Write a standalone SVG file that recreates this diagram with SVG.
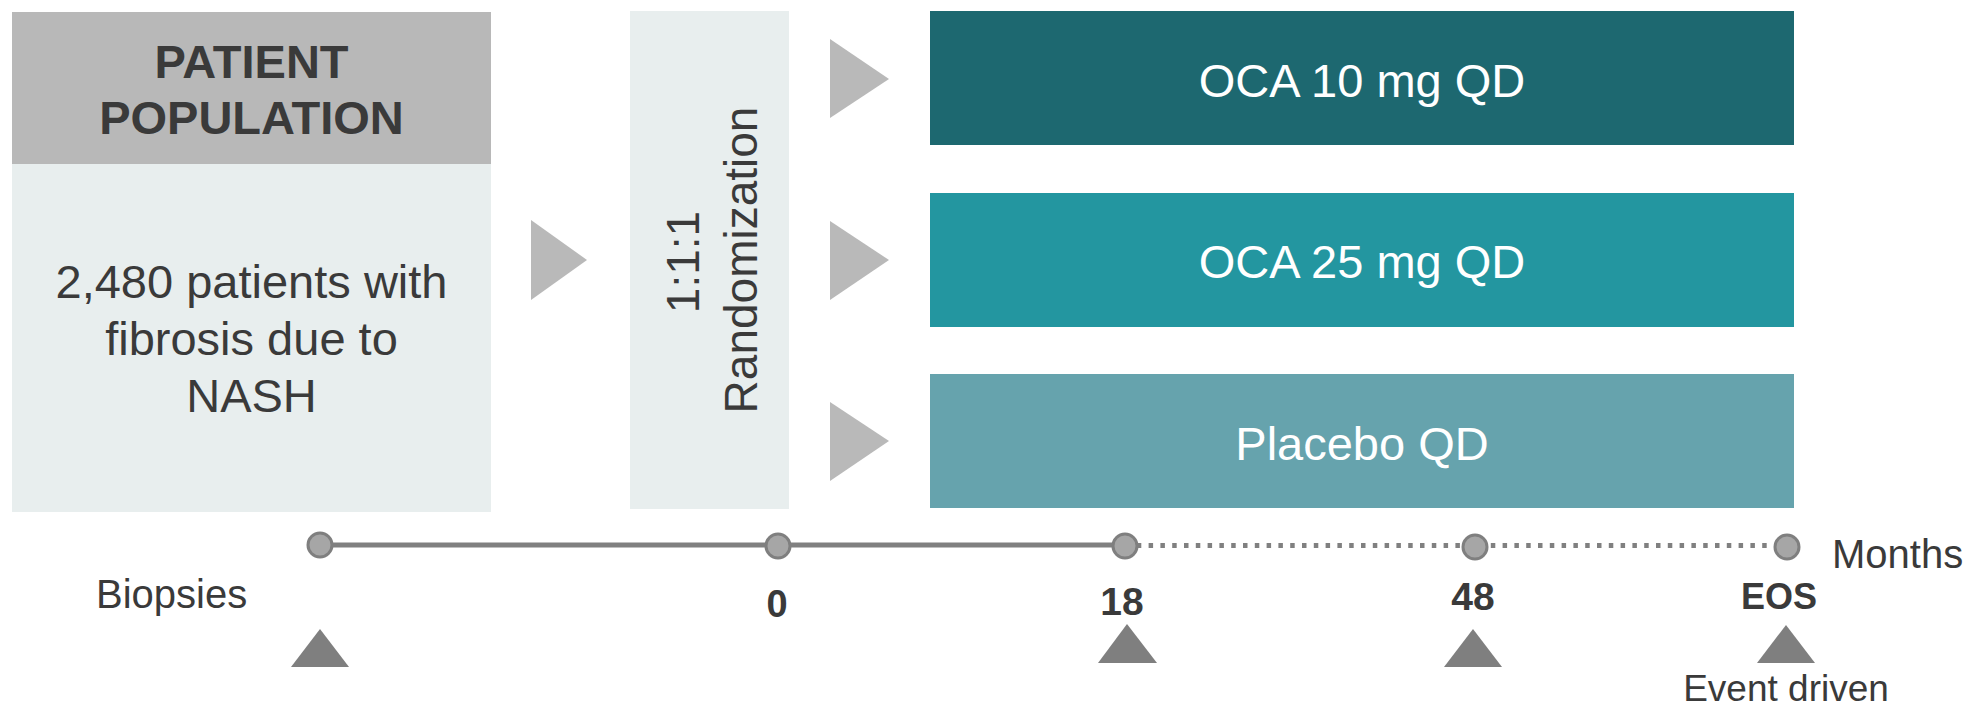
<svg xmlns="http://www.w3.org/2000/svg" width="1974" height="709" viewBox="0 0 1974 709">
  <style>
    text { font-family: "Liberation Sans", Arial, sans-serif; fill: #3A3A3A; }
    .hdr { font-size: 47px; font-weight: bold; text-anchor: middle; }
    .body { font-size: 47px; text-anchor: middle; }
    .rot { font-size: 46px; text-anchor: middle; }
    .arm { font-size: 47px; text-anchor: middle; fill: #FFFFFF; }
    .tick { font-weight: bold; text-anchor: middle; }
    .lbl { font-size: 40px; }
    .chev { fill: #B9B9B9; }
    .mark { fill: #7F7F7F; }
    .pt { fill: #A6A6A6; stroke: #7F7F7F; stroke-width: 3; }
    .tl { stroke: #808080; stroke-width: 5; fill: none; }
  </style>
  <rect width="1974" height="709" fill="#FFFFFF"/>

  <g id="patient-population">
    <rect x="12" y="12" width="479" height="152" fill="#B8B8B8"/>
    <rect x="12" y="164" width="479" height="348" fill="#E8EEEE"/>
    <text class="hdr" x="251.5" y="78">PATIENT</text>
    <text class="hdr" x="251.5" y="134">POPULATION</text>
    <text class="body" x="251.5" y="298">2,480 patients with</text>
    <text class="body" x="251.5" y="355">fibrosis due to</text>
    <text class="body" x="251.5" y="412">NASH</text>
  </g>

  <g id="randomization">
    <rect x="630" y="11" width="159" height="498" fill="#E8EEEE"/>
    <text class="rot" transform="translate(699,262) rotate(-90)">1:1:1</text>
    <text class="rot" transform="translate(757,260) rotate(-90)">Randomization</text>
  </g>

  <g id="arm-oca10">
    <rect x="930" y="11" width="864" height="134" fill="#1D6870"/>
    <text class="arm" x="1362" y="97">OCA 10 mg QD</text>
  </g>
  <g id="arm-oca25">
    <rect x="930" y="193" width="864" height="134" fill="#2396A0"/>
    <text class="arm" x="1362" y="278">OCA 25 mg QD</text>
  </g>
  <g id="arm-placebo">
    <rect x="930" y="374" width="864" height="134" fill="#66A3AD"/>
    <text class="arm" x="1362" y="460">Placebo QD</text>
  </g>

  <g id="connectors">
    <polygon class="chev" points="531,220 587,260 531,300"/>
    <polygon class="chev" points="830,39 889,79 830,118"/>
    <polygon class="chev" points="830,221 889,260 830,300"/>
    <polygon class="chev" points="830,402 889,441 830,481"/>
    <line class="tl" x1="320" y1="545" x2="1125" y2="545"/>
    <line class="tl" x1="1125" y1="545.5" x2="1787" y2="545.5" stroke-dasharray="4.5 7.3"/>
  </g>

  <g id="timepoint-biopsies">
    <circle class="pt" cx="320" cy="545" r="12"/>
    <text class="lbl" x="96" y="608">Biopsies</text>
    <polygon class="mark" points="291,667 320,629 349,667"/>
  </g>
  <g id="timepoint-0">
    <circle class="pt" cx="778" cy="546" r="12"/>
    <text class="tick" x="777" y="617" font-size="38">0</text>
  </g>
  <g id="timepoint-18">
    <circle class="pt" cx="1125" cy="546" r="12"/>
    <text class="tick" x="1122" y="615" font-size="39">18</text>
    <polygon class="mark" points="1098,663 1127,624 1157,663"/>
  </g>
  <g id="timepoint-48">
    <circle class="pt" cx="1475" cy="547" r="12"/>
    <text class="tick" x="1473" y="610" font-size="39">48</text>
    <polygon class="mark" points="1444,667 1473,629 1502,667"/>
  </g>
  <g id="timepoint-eos">
    <circle class="pt" cx="1787" cy="547" r="12"/>
    <text class="lbl" x="1832" y="568">Months</text>
    <text class="tick" x="1779" y="609" font-size="36">EOS</text>
    <polygon class="mark" points="1757,663 1786,625 1815,663"/>
    <text x="1786" y="701" font-size="37" text-anchor="middle">Event driven</text>
  </g>
</svg>
